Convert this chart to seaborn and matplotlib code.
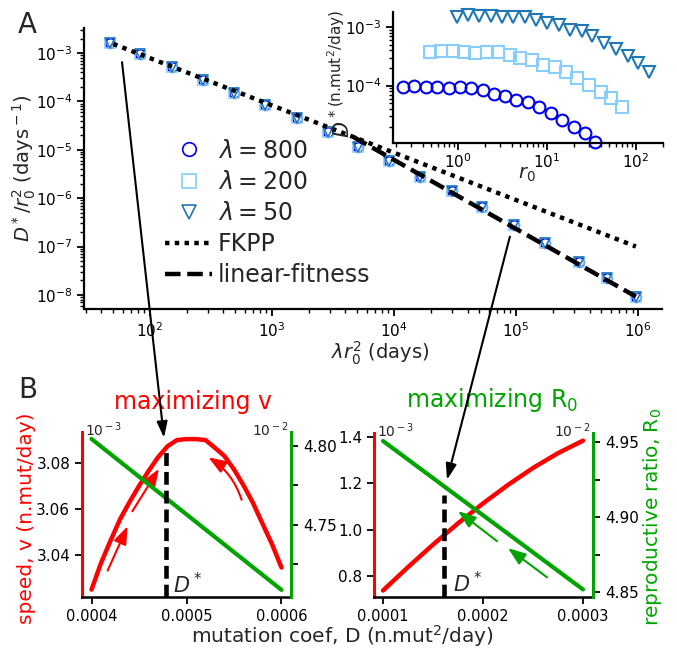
import matplotlib
matplotlib.use("Agg")
import matplotlib.pyplot as plt
import seaborn as sns
import numpy as np
from matplotlib.patches import ConnectionPatch
from matplotlib.ticker import FixedLocator, FuncFormatter, NullFormatter

# ---------------- data ----------------
lam_values = [800, 200, 50]
lam_labels = [r"$\lambda = 800$", r"$\lambda = 200$", r"$\lambda = 50$"]
lam_markers = ["o", "s", "v"]
lam_colors = ["#0000ee", "#87cefa", "#1f77b4"]

# collapsed data: lambda * r0^2 (days) vs D*/r0^2 (1/days)
lam_r0sq = [47, 83, 151, 272, 489, 877, 1600, 2880, 5070, 9100, 16300, 29900,
            52600, 96400, 173000, 328000, 557000, 964000]
dstar_r0sq = [1.6e-3, 9.5e-4, 5.1e-4, 2.8e-4, 1.5e-4, 8.5e-5, 4.6e-5, 2.3e-5,
              1.15e-5, 5.9e-6, 2.75e-6, 1.4e-6, 6.6e-7, 2.8e-7, 1.2e-7, 4.8e-8,
              2.2e-8, 9e-9]

fkpp_x = [50, 9.6e5]
fkpp_y = [1.55e-3, 1.0e-7]
linfit_x = [4600, 9.6e5]
linfit_y = [1.87e-5, 9.2e-9]

# panel B left: maximizing v
D_left = [0.00040, 0.00041, 0.00042, 0.00043, 0.00044, 0.00045, 0.00046,
          0.00047, 0.00048, 0.00049, 0.00050, 0.00051, 0.00052, 0.00053,
          0.00054, 0.00055, 0.00056, 0.00057, 0.00058, 0.00059, 0.00060]
v_left = [3.0249, 3.0365, 3.0462, 3.0555, 3.0630, 3.0700, 3.0765,
          3.0825, 3.0873, 3.0900, 3.0904, 3.0904, 3.0900, 3.0866,
          3.0830, 3.0772, 3.0703, 3.0626, 3.0536, 3.0447, 3.0345]
D_R0_left = [0.00040, 0.00060]
R0_left = [4.8045, 4.7085]
dstar_left = 0.000478

# panel B right: maximizing R0
D_right = [0.0001, 0.000125, 0.00015, 0.000175, 0.0002, 0.000225,
           0.00025, 0.000275, 0.0003]
v_right = [0.737, 0.838, 0.935, 1.027, 1.113, 1.193, 1.266, 1.33, 1.384]
D_R0_right = [0.0001, 0.0003]
R0_right = [4.9507, 4.852]
dstar_right = 0.000161
dstar_right_top = 1.15

RED = "#ff0000"
GREEN = "#00a400"

# ---------------- style ----------------
sns.set_theme(style="ticks")
plt.rcParams.update({
    "font.family": ["DejaVu Sans"],
    "mathtext.fontset": "dejavusans",
    "axes.linewidth": 1.6,
    "axes.edgecolor": "black",
    "axes.facecolor": "white",
    "figure.facecolor": "white",
    "xtick.color": "black", "ytick.color": "black",
    "xtick.major.width": 1.3, "ytick.major.width": 1.3,
    "xtick.minor.width": 1.0, "ytick.minor.width": 1.0,
    "xtick.major.size": 5, "ytick.major.size": 5,
    "xtick.minor.size": 3, "ytick.minor.size": 3,
    "xtick.direction": "out", "ytick.direction": "out",
})

W, H = 677, 650
fig = plt.figure(figsize=(W / 100, H / 100), dpi=100)


def rect(l, t, r, b):
    return [l / W, 1 - b / H, (r - l) / W, (b - t) / H]


# ---------------- panel A main ----------------
axA = fig.add_axes(rect(84, 28, 662, 309))
axA.set_xscale("log")
axA.set_yscale("log")
for lam, lab, mk, c in zip(lam_values, lam_labels, lam_markers, lam_colors):
    sns.lineplot(x=lam_r0sq, y=dstar_r0sq, ax=axA, color=c, marker=mk,
                 linestyle="", markersize=7, markerfacecolor="none",
                 markeredgecolor=c, markeredgewidth=1.2, label=lab,
                 estimator=None, sort=False)
sns.lineplot(x=fkpp_x, y=fkpp_y, ax=axA, color="black", lw=3.2,
             linestyle=(0, (1, 1.2)), label="FKPP", zorder=5)
sns.lineplot(x=linfit_x, y=linfit_y, ax=axA, color="black", lw=3.2,
             linestyle=(0, (3.5, 1.5)), label="linear-fitness", zorder=5)
axA.set_xlim(28.8, 1.57e6)
axA.set_ylim(5.1e-9, 3.3e-3)
axA.set_xlabel("")
axA.set_ylabel("")
axA.tick_params(axis="both", labelsize=11)
sns.despine(ax=axA)
axA.legend(loc="upper left", bbox_to_anchor=(0.14, 0.606), frameon=False,
           fontsize=17, markerscale=1.4, handlelength=2.0,
           handletextpad=0.25, labelspacing=0.3, borderpad=0,
           borderaxespad=0)

fig.text(24 / W, 1 - 168 / H, r"$D^*/r_0^2$ (days$^{\rm -1}$)", rotation=90,
         fontsize=14, ha="center", va="center")
fig.text(380 / W, 1 - 353 / H, r"$\lambda r_0^2$ (days)", fontsize=14,
         ha="center", va="center")
fig.text(18 / W, 1 - 33 / H, "A", fontsize=20, ha="left", va="baseline")

# ---------------- inset ----------------
axI = fig.add_axes(rect(393, 12, 663, 143))
axI.set_xscale("log")
axI.set_yscale("log")
for lam, mk, c in zip(lam_values, lam_markers, lam_colors):
    r0 = np.sqrt(np.array(lam_r0sq) / lam)
    dst = np.array(dstar_r0sq) * r0 ** 2
    sns.lineplot(x=r0, y=dst, ax=axI, color=c, marker=mk, linestyle="",
                 markersize=8.5, markerfacecolor="none", markeredgecolor=c,
                 markeredgewidth=1.5, estimator=None, sort=False,
                 clip_on=False)
axI.set_xlim(0.186, 201)
axI.set_ylim(1.05e-5, 1.8e-3)
axI.set_xlabel("")
axI.set_ylabel("")
axI.tick_params(axis="both", labelsize=11)
axI.tick_params(axis="x", pad=1.5)
sns.despine(ax=axI)
fig.text(527 / W, 1 - 174 / H, r"$r_0$", fontsize=14, ha="center",
         va="center")
fig.text(336 / W, 1 - 58 / H, r"(n.mut$^2$/day)", rotation=90, fontsize=11,
         ha="center", va="center")
fig.text(342 / W, 1 - 123 / H, r"$D^*$", rotation=90, fontsize=15,
         ha="center", va="center")

# ---------------- panel B left ----------------
axL = fig.add_axes(rect(82, 432, 291, 597))
sns.lineplot(x=D_left, y=v_left, ax=axL, color=RED, lw=3.2)
axL.set_xlim(0.00039, 0.00061)
axL.set_ylim(3.0217, 3.0935)
axL2 = axL.twinx()
sns.lineplot(x=D_R0_left, y=R0_left, ax=axL2, color=GREEN, lw=3)
vtop_left = np.interp(dstar_left, D_left, v_left)
axL2.plot([dstar_left, dstar_left], [3.0217, vtop_left],
          transform=axL.transData, color="black", lw=3.3,
          linestyle=(0, (2.8, 1.3)), zorder=4)
axL2.set_ylim(4.704, 4.8089)

# panel B right
axR = fig.add_axes(rect(374, 433, 593, 597))
sns.lineplot(x=D_right, y=v_right, ax=axR, color=RED, lw=3.2)
axR.set_xlim(0.000091, 0.00031)
axR.set_ylim(0.709, 1.417)
axR2 = axR.twinx()
sns.lineplot(x=D_R0_right, y=R0_right, ax=axR2, color=GREEN, lw=3)
axR2.plot([dstar_right, dstar_right], [0.709, dstar_right_top],
          transform=axR.transData, color="black", lw=3.3,
          linestyle=(0, (2.8, 1.3)), zorder=4)
axR2.set_ylim(4.847, 4.956)

for a, a2, xt, yt, ymaj, ymin, yfmt in [
        (axL, axL2, [0.0004, 0.0005, 0.0006], [3.04, 3.06, 3.08],
         [4.75, 4.80], [4.725, 4.775], "%.2f"),
        (axR, axR2, [0.0001, 0.0002, 0.0003], [0.8, 1.0, 1.2, 1.4],
         [4.85, 4.90, 4.95], [4.875, 4.925], "%.1f")]:
    a.set_xlabel(""); a.set_ylabel(""); a2.set_ylabel("")
    a.xaxis.set_major_locator(FixedLocator(xt))
    a.xaxis.set_major_formatter(FuncFormatter(lambda v, p: "%.4f" % v))
    a.yaxis.set_major_locator(FixedLocator(yt))
    a.yaxis.set_major_formatter(FuncFormatter(lambda v, p, f=yfmt: f % v))
    a2.yaxis.set_major_locator(FixedLocator(ymaj))
    a2.yaxis.set_minor_locator(FixedLocator(ymin))
    a2.yaxis.set_major_formatter(FuncFormatter(lambda v, p: "%.2f" % v))
    a2.yaxis.set_minor_formatter(NullFormatter())
    a2.tick_params(axis="y", which="both", length=5, width=1.3,
                   labelsize=11)
    a.tick_params(axis="x", labelsize=10.5, length=5, pad=3.5)
    a.tick_params(axis="y", labelsize=11, length=5)
    for s in ["top", "right"]:
        a.spines[s].set_visible(False)
    for s in ["top", "left", "bottom"]:
        a2.spines[s].set_visible(False)
    a.spines["left"].set_color(RED)
    a.spines["left"].set_linewidth(2.2)
    a.spines["bottom"].set_linewidth(1.8)
    a2.spines["right"].set_color(GREEN)
    a2.spines["right"].set_linewidth(2.2)
    a.text(0.012, 1.012, r"10$^{\rm -3}$", transform=a.transAxes,
           fontsize=10, ha="left", va="center")
    a.text(0.99, 1.012, r"10$^{\rm -2}$", transform=a.transAxes,
           fontsize=10, ha="right", va="center")

# D* labels
axL.text(0.000486, 3.027, r"$D^*$", fontsize=15, ha="left", va="center")
axR.text(0.000170, 0.768, r"$D^*$", fontsize=15, ha="left", va="center")

# red arrows (left) and green arrows (right)
ASTYLE = "-|>,head_length=0.6,head_width=0.22"
arrow_red = [((0.000417, 3.0332), (0.000438, 3.0525), 0.0),
             ((0.000443, 3.0590), (0.000471, 3.0775), 0.0),
             ((0.000558, 3.0640), (0.000523, 3.0825), 0.18)]
for tail, head, rad in arrow_red:
    axL.annotate("", xy=head, xytext=tail,
                 arrowprops=dict(arrowstyle=ASTYLE, color=RED, lw=1.5,
                                 mutation_scale=18, shrinkA=0, shrinkB=0,
                                 connectionstyle="arc3,rad=%g" % rad))
arrow_green = [((0.000214, 0.950), (0.000175, 1.080)),
               ((0.000264, 0.794), (0.000225, 0.920))]
for tail, head in arrow_green:
    axR.annotate("", xy=head, xytext=tail,
                 arrowprops=dict(arrowstyle=ASTYLE, color=GREEN, lw=1.5,
                                 mutation_scale=18, shrinkA=0, shrinkB=0))

# titles / labels for B
fig.text(193 / W, 1 - 402 / H, "maximizing v", color=RED, fontsize=17,
         ha="center", va="center")
fig.text(492 / W, 1 - 400 / H, r"maximizing R$_0$", color=GREEN, fontsize=17,
         ha="center", va="center")
fig.text(27 / W, 1 - 518 / H, "speed, v (n.mut/day)", color=RED, rotation=90,
         fontsize=14.5, ha="center", va="center")
fig.text(652 / W, 1 - 517 / H, r"reproductive ratio, R$_0$", color=GREEN,
         rotation=90, fontsize=14.5, ha="center", va="center")
fig.text(342 / W, 1 - 643 / H, r"mutation coef, D (n.mut$^2$/day)",
         fontsize=14.5, ha="center", va="baseline")
fig.text(18 / W, 1 - 398 / H, "B", fontsize=20, ha="left", va="baseline")

# connecting arrows from panel A to panel B
con1 = ConnectionPatch(xyA=(59, 6.5e-4), coordsA=axA.transData,
                       xyB=(0.0004763, 3.091), coordsB=axL.transData,
                       arrowstyle="-|>,head_length=0.6,head_width=0.2",
                       mutation_scale=16, lw=1.5, color="black",
                       shrinkA=0, shrinkB=0, zorder=10)
con2 = ConnectionPatch(xyA=(8.9e4, 1.6e-7), coordsA=axA.transData,
                       xyB=(0.000164, 1.215), coordsB=axR.transData,
                       arrowstyle="-|>,head_length=0.6,head_width=0.2",
                       mutation_scale=16, lw=1.5, color="black",
                       shrinkA=0, shrinkB=0, zorder=10)
fig.add_artist(con1)
fig.add_artist(con2)

fig.savefig("out.png", dpi=100)
